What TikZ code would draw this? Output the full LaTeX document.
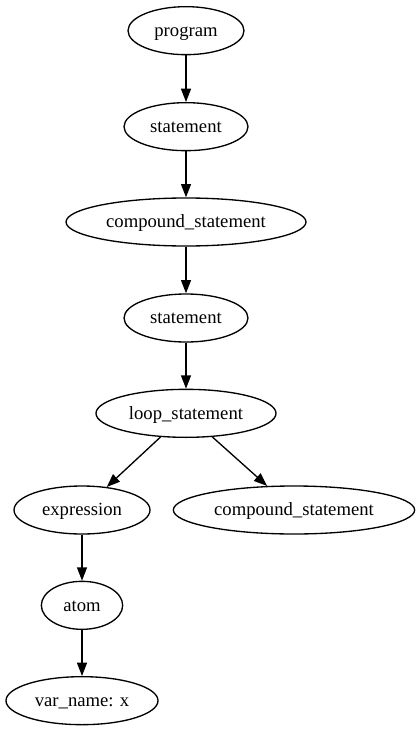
\documentclass[tikz,border=0pt]{standalone}
\usepackage{fontspec}
\setmainfont{Liberation Serif}
\usetikzlibrary{shapes.geometric,arrows.meta}
\begin{document}
\begin{tikzpicture}[x=1pt,y=1pt,>={Triangle[length=10pt,width=7.5pt]},line width=1pt]
\useasboundingbox (0,0) rectangle (315,-548.25);
\tikzstyle{every node}=[draw,ellipse,inner sep=0pt,minimum height=36pt,text height=11.5pt,text depth=3pt,font=\fontsize{14}{16.8}\selectfont]
\node[minimum width=87pt](prog) at (139.5,-23) {program};
\node[minimum width=93pt](st0) at (139.5,-95) {statement};
\node[minimum width=180pt](cs0) at (139.5,-166.5) {compound\_statement};
\node[minimum width=93pt](st1) at (139.5,-238.5) {statement};
\node[minimum width=135pt](loop) at (139.5,-310) {loop\_statement};
\node[minimum width=102pt](expr) at (61.5,-382.5) {expression};
\node[minimum width=181pt](cs1) at (220.5,-382.5) {compound\_statement};
\node[minimum width=61pt](atom) at (61.5,-454) {atom};
\node[minimum width=114pt](var) at (61.5,-525.5) {var\_name: x};
\draw[->] (prog) -- (st0);
\draw[->] (st0) -- (cs0);
\draw[->] (cs0) -- (st1);
\draw[->] (st1) -- (loop);
\draw[->] (loop) -- (expr);
\draw[->] (loop) -- (cs1);
\draw[->] (expr) -- (atom);
\draw[->] (atom) -- (var);
\end{tikzpicture}
\end{document}
